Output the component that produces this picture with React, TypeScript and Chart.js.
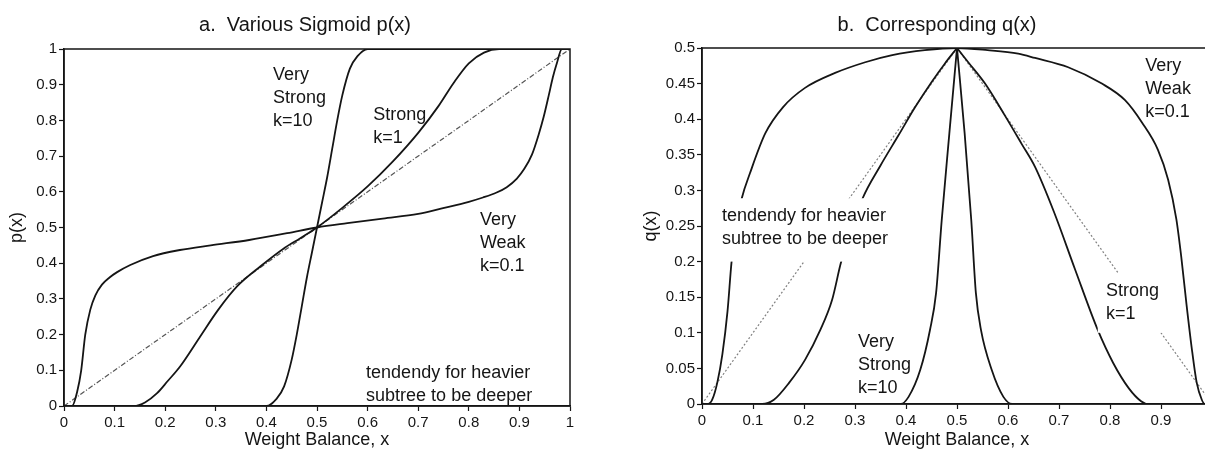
import React, { useEffect, useRef } from "react";
import { Chart, registerables } from "chart.js";

Chart.register(...registerables);

const FONT = "'Liberation Sans', Arial, Helvetica, sans-serif";
const INK = "#151515";

// ---- Panel a: sigmoid p(x) ----
const pTicksX = [0, 0.1, 0.2, 0.3, 0.4, 0.5, 0.6, 0.7, 0.8, 0.9, 1];
const pTicksY = [0, 0.1, 0.2, 0.3, 0.4, 0.5, 0.6, 0.7, 0.8, 0.9, 1];

const pVeryStrongX = [0, 0.38, 0.4, 0.42, 0.435, 0.45, 0.46, 0.47, 0.48, 0.49, 0.5, 0.51, 0.52, 0.53, 0.54, 0.55, 0.565, 0.58, 0.6, 1];
const pVeryStrongY = [0, 0, 0, 0.02, 0.055, 0.13, 0.2, 0.28, 0.36, 0.43, 0.5, 0.57, 0.64, 0.72, 0.8, 0.87, 0.945, 0.98, 1, 1];

const pStrongX = [0, 0.138, 0.16, 0.184, 0.205, 0.229, 0.267, 0.305, 0.342, 0.389, 0.433, 0.467, 0.5, 0.55, 0.6, 0.65, 0.7, 0.74, 0.77, 0.8, 0.83, 0.86, 1];
const pStrongY = [0, 0, 0.01, 0.036, 0.07, 0.11, 0.19, 0.27, 0.335, 0.392, 0.44, 0.47, 0.5, 0.555, 0.615, 0.685, 0.765, 0.84, 0.905, 0.96, 0.99, 1, 1];

const pWeakX = [0, 0.016, 0.026, 0.034, 0.042, 0.052, 0.062, 0.075, 0.09, 0.105, 0.131, 0.176, 0.229, 0.29, 0.366, 0.441, 0.5, 0.56, 0.63, 0.7, 0.745, 0.8, 0.828, 0.855, 0.875, 0.895, 0.91, 0.925, 0.938, 0.948, 0.958, 0.966, 0.974, 0.984, 1];
const pWeakY = [0, 0, 0.04, 0.1, 0.2, 0.27, 0.31, 0.34, 0.36, 0.375, 0.395, 0.42, 0.437, 0.45, 0.465, 0.484, 0.5, 0.512, 0.525, 0.538, 0.553, 0.572, 0.584, 0.598, 0.613, 0.637, 0.665, 0.705, 0.76, 0.81, 0.87, 0.92, 0.96, 1, 1];

const pDiagX = [0, 1];
const pDiagY = [0, 1];

// ---- Panel b: corresponding q(x) ----
const qTicksX = [0, 0.1, 0.2, 0.3, 0.4, 0.5, 0.6, 0.7, 0.8, 0.9, 1];
const qTicksY = [0, 0.05, 0.1, 0.15, 0.2, 0.25, 0.3, 0.35, 0.4, 0.45, 0.5];

const qWeakX = [0, 0.012, 0.02, 0.03, 0.04, 0.05, 0.058, 0.066, 0.078, 0.094, 0.124, 0.159, 0.202, 0.261, 0.32, 0.373, 0.437, 0.5, 0.56, 0.62, 0.653, 0.718, 0.784, 0.829, 0.863, 0.894, 0.914, 0.93, 0.94, 0.95, 0.96, 0.97, 0.98, 0.986, 1];
const qWeakY = [0, 0, 0.006, 0.03, 0.07, 0.13, 0.2, 0.245, 0.289, 0.324, 0.38, 0.417, 0.444, 0.465, 0.48, 0.49, 0.497, 0.5, 0.497, 0.492, 0.486, 0.473, 0.45, 0.427, 0.395, 0.357, 0.315, 0.26, 0.205, 0.14, 0.08, 0.03, 0.006, 0, 0];

const qStrongRiseX = [0, 0.118, 0.141, 0.171, 0.202, 0.232, 0.255, 0.273, 0.294, 0.315, 0.35, 0.385, 0.418, 0.451, 0.476, 0.5];
const qStrongRiseY = [0, 0, 0.006, 0.03, 0.062, 0.104, 0.146, 0.2, 0.246, 0.289, 0.335, 0.377, 0.417, 0.453, 0.478, 0.5];
const qStrongFallX = [0.5, 0.522, 0.555, 0.594, 0.627, 0.653, 0.69, 0.731, 0.776, 0.806, 0.837, 0.861, 0.875, 1];
const qStrongFallY = [0.5, 0.48, 0.45, 0.405, 0.365, 0.333, 0.27, 0.19, 0.104, 0.058, 0.022, 0.004, 0, 0];

const qVeryStrongRiseX = [0, 0.39, 0.405, 0.428, 0.447, 0.459, 0.47, 0.485, 0.5];
const qVeryStrongRiseY = [0, 0, 0.01, 0.048, 0.104, 0.156, 0.258, 0.38, 0.5];
const qVeryStrongFallX = [0.5, 0.515, 0.528, 0.537, 0.547, 0.568, 0.591, 0.608, 1];
const qVeryStrongFallY = [0.5, 0.38, 0.258, 0.156, 0.104, 0.048, 0.01, 0, 0];

const qTriX = [0, 0.5, 1];
const qTriY = [0, 0.5, 0];

// ---- Text placed inside the panels (data coordinates of first line) ----
type Note = { lines: string[]; x: number; y: number; mask?: [number, number, number, number] };

const pNotes: Note[] = [
  { lines: ["Very", "Strong", "k=10"], x: 0.413, y: 0.927 },
  { lines: ["Strong", "k=1"], x: 0.611, y: 0.815 },
  { lines: ["Very", "Weak", "k=0.1"], x: 0.822, y: 0.521 },
  { lines: ["tendendy for heavier", "subtree to be deeper"], x: 0.597, y: 0.092 },
];

const qNotes: Note[] = [
  { lines: ["Very", "Weak", "k=0.1"], x: 0.869, y: 0.475 },
  { lines: ["Strong", "k=1"], x: 0.792, y: 0.159, mask: [0.776, 0.91, 0.1, 0.184] },
  { lines: ["Very", "Strong", "k=10"], x: 0.306, y: 0.087 },
  { lines: ["tendendy for heavier", "subtree to be deeper"], x: 0.039, y: 0.264, mask: [0.02, 0.37, 0.2, 0.289] },
];

const zip = (xs: number[], ys: number[]) => xs.map((x, i) => ({ x, y: ys[i] }));

function curve(xs: number[], ys: number[]) {
  return {
    data: zip(xs, ys),
    borderColor: INK,
    borderWidth: 1.8,
    pointRadius: 0,
    fill: false,
    cubicInterpolationMode: "monotone" as const,
  };
}

function guide(xs: number[], ys: number[], color: string, dash: number[]) {
  return {
    data: zip(xs, ys),
    borderColor: color,
    borderWidth: 1.2,
    borderDash: dash,
    pointRadius: 0,
    fill: false,
    tension: 0,
  };
}

const fmt = (v: number) => String(Math.round(v * 1000) / 1000);

const panelText = {
  id: "panelText",
  afterDatasetsDraw(chart: any, _args: any, opts: any) {
    const { ctx } = chart;
    const xs = chart.scales.x;
    const ys = chart.scales.y;
    ctx.save();
    (opts.notes as Note[]).forEach((n) => {
      if (n.mask) {
        const [x0, x1, y0, y1] = n.mask;
        const l = xs.getPixelForValue(x0);
        const r = xs.getPixelForValue(x1);
        const t = ys.getPixelForValue(y1);
        const b = ys.getPixelForValue(y0);
        ctx.fillStyle = "#ffffff";
        ctx.fillRect(l, t, r - l, b - t);
      }
    });
    ctx.fillStyle = INK;
    ctx.font = `18px ${FONT}`;
    ctx.textAlign = "left";
    ctx.textBaseline = "middle";
    (opts.notes as Note[]).forEach((n) => {
      const px = xs.getPixelForValue(n.x);
      const py = ys.getPixelForValue(n.y);
      n.lines.forEach((line, i) => ctx.fillText(line, px, py + i * 23));
    });
    ctx.restore();
  },
  afterDraw(chart: any, _args: any, opts: any) {
    const { ctx, chartArea } = chart;
    ctx.save();
    ctx.strokeStyle = INK;
    ctx.lineWidth = 1.5;
    ctx.strokeRect(chartArea.left, chartArea.top, chartArea.right - chartArea.left, chartArea.bottom - chartArea.top);
    ctx.fillStyle = INK;
    ctx.font = `20px ${FONT}`;
    ctx.textAlign = "center";
    ctx.textBaseline = "middle";
    ctx.fillText(opts.title, opts.titleX, opts.titleY);
    ctx.restore();
  },
};

function axis(ticks: number[], max: number, extra: any) {
  return {
    type: "linear",
    min: 0,
    max,
    afterBuildTicks: (s: any) => {
      s.ticks = ticks.map((v) => ({ value: v }));
    },
    ticks: {
      autoSkip: false,
      maxRotation: 0,
      color: INK,
      font: { family: FONT, size: 15 },
      callback: (v: number) => fmt(v),
      ...extra.ticks,
    },
    grid: {
      display: true,
      drawOnChartArea: false,
      drawTicks: true,
      tickLength: 5,
      tickColor: INK,
      tickWidth: 1.2,
    },
    border: { display: true, color: INK, width: 1.5 },
    title: {
      display: true,
      text: extra.title,
      color: INK,
      font: { family: FONT, size: 18 },
      padding: extra.titlePadding,
    },
    afterFit: extra.afterFit,
  };
}

function makeConfig(opts: {
  datasets: any[];
  xTicks: number[];
  yTicks: number[];
  yMax: number;
  yTitle: string;
  yTitlePad: number;
  yWidth: number;
  xHeight: number;
  padding: any;
  title: string;
  titleX: number;
  notes: Note[];
}) {
  return {
    type: "line" as const,
    data: { datasets: opts.datasets },
    options: {
      animation: false,
      responsive: false,
      events: [],
      layout: { padding: opts.padding },
      plugins: {
        legend: { display: false },
        tooltip: { enabled: false },
        panelText: { title: opts.title, titleX: opts.titleX, titleY: 25, notes: opts.notes },
      },
      scales: {
        x: axis(opts.xTicks, 1, {
          title: "Weight Balance, x",
          titlePadding: { top: 0, bottom: 0 },
          ticks: { padding: 3 },
          afterFit: (s: any) => {
            s.height = opts.xHeight;
          },
        }),
        y: axis(opts.yTicks, opts.yMax, {
          title: opts.yTitle,
          titlePadding: { top: opts.yTitlePad, bottom: 0 },
          ticks: { padding: 2 },
          afterFit: (s: any) => {
            s.width = opts.yWidth;
          },
        }),
      },
    },
    plugins: [panelText],
  };
}

export default function App() {
  const leftRef = useRef<HTMLCanvasElement>(null);
  const rightRef = useRef<HTMLCanvasElement>(null);

  useEffect(() => {
    const left = new Chart(
      leftRef.current as HTMLCanvasElement,
      makeConfig({
        datasets: [
          curve(pVeryStrongX, pVeryStrongY),
          curve(pStrongX, pStrongY),
          curve(pWeakX, pWeakY),
          guide(pDiagX, pDiagY, "#555555", [5, 2, 1, 2]),
        ],
        xTicks: pTicksX,
        yTicks: pTicksY,
        yMax: 1,
        yTitle: "p(x)",
        yTitlePad: 6,
        yWidth: 64,
        xHeight: 45,
        padding: { top: 49, left: 0, right: 30, bottom: 0 },
        title: "a.  Various Sigmoid p(x)",
        titleX: 305,
        notes: pNotes,
      }) as any
    );
    const right = new Chart(
      rightRef.current as HTMLCanvasElement,
      makeConfig({
        datasets: [
          curve(qWeakX, qWeakY),
          curve(qStrongRiseX, qStrongRiseY),
          curve(qStrongFallX, qStrongFallY),
          curve(qVeryStrongRiseX, qVeryStrongRiseY),
          curve(qVeryStrongFallX, qVeryStrongFallY),
          guide(qTriX, qTriY, "#808080", [2, 2]),
        ],
        xTicks: qTicksX,
        yTicks: qTicksY,
        yMax: 0.5,
        yTitle: "q(x)",
        yTitlePad: 40,
        yWidth: 102,
        xHeight: 47,
        padding: { top: 48, left: 0, right: 8, bottom: 0 },
        title: "b.  Corresponding q(x)",
        titleX: 337,
        notes: qNotes,
      }) as any
    );
    return () => {
      left.destroy();
      right.destroy();
    };
  }, []);

  return (
    <div
      style={{
        position: "fixed",
        left: 0,
        top: 0,
        width: 1205,
        height: 451,
        overflow: "hidden",
        background: "#ffffff",
      }}
    >
      <canvas
        ref={leftRef}
        width={600}
        height={451}
        style={{ position: "absolute", left: 0, top: 0, width: 600, height: 451 }}
      />
      <canvas
        ref={rightRef}
        width={620}
        height={451}
        style={{ position: "absolute", left: 600, top: 0, width: 620, height: 451 }}
      />
    </div>
  );
}
